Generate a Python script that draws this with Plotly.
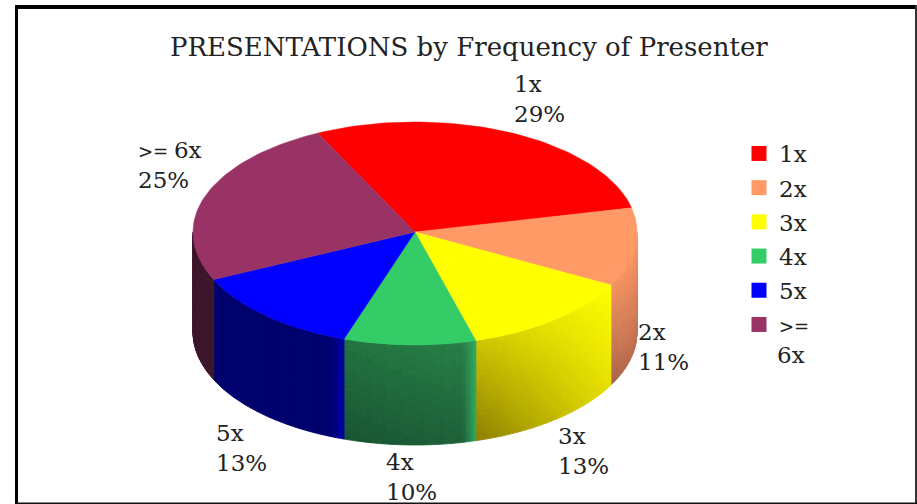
import math
import plotly.graph_objects as go

TITLE = "PRESENTATIONS by Frequency of Presenter"
categories = ["1x", "2x", "3x", "4x", "5x", ">= 6x"]
category_html = ["1x", "2x", "3x", "4x", "5x", '<span style="font-size:18px">&gt;= </span>6x']
legend_labels = ["1x", "2x", "3x", "4x", "5x", '<span style="font-size:18px">&gt;=</span>']
legend_wrap = "6x"
values = [28.7, 11.3, 12.8, 9.6, 12.9, 24.7]
top_colors = ["#FF0000", "#FF9966", "#FFFF00", "#33CC66", "#0000FF", "#993366"]

# label anchor (left edge, first line centre, second line centre) in picture pixels
label_x = [513, 637, 557, 385, 215, 137]
label_y1 = [84, 332, 436, 462, 433, 150]
label_y2 = [114, 362, 466, 492, 463, 180]

# wall shading corners: top-left, top-right, bottom-left, bottom-right, right-edge glow
wall_shades = [
    None,
    ((245, 148, 98), (255, 153, 102), (170, 100, 75), (192, 112, 82), None),
    ((205, 195, 0), (255, 255, 0), (140, 125, 0), (232, 226, 0), None),
    ((35, 115, 65), (40, 128, 72), (25, 85, 50), (30, 98, 58), (50, 170, 95)),
    ((0, 0, 110), (0, 0, 110), (0, 0, 110), (0, 0, 110), (0, 0, 170)),
    ((62, 25, 45), (62, 25, 45), (62, 25, 45), (62, 25, 45), None),
]

CX, CY, RX, RY_FRONT, RY_BACK, DEPTH = 415, 232, 222, 113, 110, 100
START = -26.0


def pt(t_deg, drop=0.0):
    t = math.radians(t_deg)
    c = math.cos(t)
    return CX + RX * math.sin(t), CY - (RY_BACK if c > 0 else RY_FRONT) * c + drop


fig = go.Figure()

# slice angles from the values
total = sum(values)
edges = [START]
for val in values:
    edges.append(edges[-1] + val / total * 360)

# side wall: cells bucketed by colour, one trace per colour
for i, shade in enumerate(wall_shades):
    if shade is None:
        continue
    a, b = edges[i], edges[i + 1]
    a2, b2 = max(a, 90.0), min(b, 270.0)
    if b2 <= a2:
        continue
    TL, TR, BL, BR, glow = shade
    x_a, x_b = pt(a2)[0], pt(b2)[0]
    n_t, n_v = 40, 20
    buckets = {}
    for k in range(n_t):
        t0 = a2 + (b2 - a2) * k / n_t
        t1 = a2 + (b2 - a2) * (k + 1) / n_t
        tm = (t0 + t1) / 2
        u = (pt(tm)[0] - min(x_a, x_b)) / abs(x_b - x_a)
        for j in range(n_v):
            v0, v1 = j / n_v, (j + 1) / n_v
            vm = (j + 0.5) / n_v
            col = []
            for ch in range(3):
                top = TL[ch] + (TR[ch] - TL[ch]) * u
                bot = BL[ch] + (BR[ch] - BL[ch]) * u
                c = top + (bot - top) * vm
                if glow is not None:
                    w = max(0.0, (u - 0.9) / 0.1)
                    c = c + (glow[ch] - c) * w
                col.append(min(255, int(round(c / 3) * 3)))
            key = "rgb(%d,%d,%d)" % tuple(col)
            poly = [pt(t0, DEPTH * v0), pt(t1, DEPTH * v0), pt(t1, DEPTH * v1), pt(t0, DEPTH * v1), pt(t0, DEPTH * v0)]
            xs, ys = buckets.setdefault(key, ([], []))
            xs.extend([q[0] for q in poly] + [None])
            ys.extend([q[1] for q in poly] + [None])
    for key, (xs, ys) in buckets.items():
        fig.add_trace(go.Scatter(x=xs, y=ys, mode="lines", fill="toself", fillcolor=key,
                                 line=dict(width=0.8, color=key), showlegend=False, hoverinfo="skip"))

# top faces
for i, cat in enumerate(categories):
    n = 60
    pts = [pt(edges[i] + (edges[i + 1] - edges[i]) * k / n) for k in range(n + 1)]
    xs = [CX] + [q[0] for q in pts] + [CX]
    ys = [CY] + [q[1] for q in pts] + [CY]
    fig.add_trace(go.Scatter(x=xs, y=ys, mode="lines", fill="toself", fillcolor=top_colors[i],
                             line=dict(width=0.5, color=top_colors[i]), name=cat,
                             showlegend=False, hoverinfo="text", text="%s %.0f%%" % (cat, values[i])))

# legend entries
for i, lab in enumerate(legend_labels):
    fig.add_trace(go.Scatter(x=[None], y=[None], mode="markers", name=lab, legendgroup=str(i),
                             marker=dict(symbol="square", size=15, color=top_colors[i])))

FONT = "DejaVu Serif"
TEXT = "#222222"
annotations = []
for i, cat in enumerate(category_html):
    for txt, yy in ((cat, label_y1[i]), ("%.0f%%" % values[i], label_y2[i])):
        annotations.append(dict(x=label_x[i], y=yy, xref="x", yref="y", text=txt, showarrow=False,
                                xanchor="left", yanchor="middle", xshift=-1,
                                font=dict(family=FONT, size=23, color=TEXT)))
annotations.append(dict(x=469, y=47, xref="x", yref="y", text=TITLE, showarrow=False,
                        xanchor="center", yanchor="middle",
                        font=dict(family=FONT, size=26, color=TEXT)))
annotations.append(dict(x=775, y=355, xref="x", yref="y", text=legend_wrap, showarrow=False,
                        xanchor="left", yanchor="middle", font=dict(family=FONT, size=23, color=TEXT)))

frame = [
    dict(type="rect", xref="x", yref="y", x0=15, x1=18, y0=5, y1=504, fillcolor="#000", line_width=0),
    dict(type="rect", xref="x", yref="y", x0=15, x1=917, y0=5, y1=9, fillcolor="#000", line_width=0),
    dict(type="rect", xref="x", yref="y", x0=915, x1=917, y0=5, y1=504, fillcolor="#333", line_width=0),
    dict(type="rect", xref="x", yref="y", x0=15, x1=917, y0=502.5, y1=504, fillcolor="#111", line_width=0),
]

fig.update_layout(
    width=917, height=504, margin=dict(l=0, r=0, t=0, b=0),
    paper_bgcolor="white", plot_bgcolor="white",
    xaxis=dict(range=[0, 917], visible=False, fixedrange=True),
    yaxis=dict(range=[504, 0], visible=False, fixedrange=True),
    annotations=annotations, shapes=frame,
    legend=dict(x=739 / 917, y=1 - 132 / 504, xanchor="left", yanchor="top",
                font=dict(family=FONT, size=23, color=TEXT), tracegroupgap=1.3,
                itemwidth=30, bgcolor="rgba(0,0,0,0)"),
)
fig.write_html("out.html", post_script="document.body.style.margin='0';",
               config={"displayModeBar": False})
